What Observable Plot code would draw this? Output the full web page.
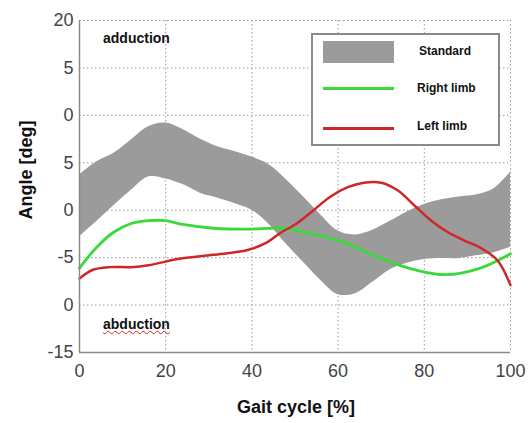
<!DOCTYPE html>
<html><head><meta charset="utf-8">
<script src="https://cdn.jsdelivr.net/npm/d3@7"></script>
<script src="https://cdn.jsdelivr.net/npm/@observablehq/plot@0.6"></script>
<style>
body{margin:0;background:#fff;font-family:"Liberation Sans",Arial,sans-serif;}
#wrap{position:relative;width:529px;height:423px;overflow:hidden;}
.ann{position:absolute;font-weight:bold;color:#111;white-space:nowrap;}
#legend{position:absolute;left:311px;top:33px;width:189px;height:113px;border:2px solid #8a8a8a;background:#fff;box-sizing:border-box;}
.lg{position:absolute;left:104px;font-size:12px;font-weight:bold;color:#111;}
.sw{position:absolute;left:10px;width:71px;}
svg text{font-family:"Liberation Sans",Arial,sans-serif;}
</style></head><body>
<div id="wrap"></div>
<script>
// Data
const bandX     = [0, 4, 8, 12, 16, 20, 24, 28, 32, 36, 40, 44, 48, 52, 56, 60, 64, 68, 72, 76, 80, 84, 88, 92, 96, 100];
const bandUpper = [3.7, 5.1, 6.0, 7.4, 8.8, 9.2, 8.5, 7.5, 6.7, 6.2, 5.6, 4.8, 3.2, 1.4, -0.5, -2.2, -2.6, -2.1, -1.2, -0.2, 0.6, 1.1, 1.4, 1.6, 2.2, 4.0];
const bandLower = [-2.8, -1.2, 0.5, 2.1, 3.5, 3.3, 2.7, 1.8, 1.3, 0.7, 0.0, -1.5, -3.6, -5.5, -7.4, -8.9, -8.8, -7.6, -6.3, -5.6, -5.2, -5.1, -5.1, -4.8, -4.5, -3.9];
const lineX     = [0, 4, 8, 12, 16, 20, 24, 31, 39, 47, 54, 62, 70, 78, 85, 93, 100];
const rightLimb = [-6.1, -3.9, -2.3, -1.4, -1.1, -1.1, -1.5, -1.9, -2.0, -1.9, -2.5, -3.5, -5.1, -6.3, -6.8, -6.1, -4.6];
const leftX     = [0, 3, 7, 12, 16, 23.5, 31, 39, 43.5, 46.6, 50.4, 54.3, 58.1, 62.1, 66, 70, 73.8, 77.7, 81.6, 85.4, 89.3, 93.2, 97, 100];
const leftLimb  = [-7.2, -6.3, -6.0, -6.0, -5.8, -5.1, -4.7, -4.2, -3.4, -2.4, -1.4, 0.0, 1.4, 2.4, 2.9, 2.9, 2.1, 0.5, -1.1, -2.3, -3.2, -4.0, -5.3, -7.9];
const yTicks      = [20, 15, 10, 5, 0, -5, -10, -15];
const yTickLabels = ["20", "5", "0", "5", "0", "-5", "0", "-15"];
const xTicks      = [0, 20, 40, 60, 80, 100];
const legendLabels = ["Standard", "Right limb", "Left limb"];
const colors = {band: "#9b9b9b", right: "#3ad83a", left: "#cf2727"};

const band = bandX.map((x, i) => ({x, lo: bandLower[i], hi: bandUpper[i]}));
const right = lineX.map((x, i) => ({x, y: rightLimb[i]}));
const left = leftX.map((x, i) => ({x, y: leftLimb[i]}));

const plot = Plot.plot({
  width: 529, height: 423,
  marginLeft: 79, marginRight: 19, marginTop: 20, marginBottom: 71,
  x: {domain: [0, 100]},
  y: {domain: [-15, 20]},
  style: {fontSize: "18px", color: "#444", background: "transparent"},
  marks: [
    Plot.gridX([20, 40, 60, 80, 100], {stroke: "#9a9a9a", strokeOpacity: 1, strokeDasharray: "1.5,2.5"}),
    Plot.gridY([20, 15, 10, 5, 0, -5, -10], {stroke: "#9a9a9a", strokeOpacity: 1, strokeDasharray: "1.5,2.5"}),
    Plot.areaY(band, {x: "x", y1: "lo", y2: "hi", fill: colors.band, curve: "catmull-rom"}),
    Plot.line(right, {x: "x", y: "y", stroke: colors.right, strokeWidth: 2.8, curve: "catmull-rom"}),
    Plot.line(left, {x: "x", y: "y", stroke: colors.left, strokeWidth: 2.5, curve: "catmull-rom"}),
    Plot.ruleX([0], {stroke: "#8a8a8a", strokeWidth: 1.5}),
    Plot.ruleY([-15], {stroke: "#8a8a8a", strokeWidth: 1.5}),
    Plot.axisY(yTicks, {tickSize: 0, tickPadding: 6, tickFormat: (d) => yTickLabels[yTicks.indexOf(d)], label: null, fontSize: 18}),
    Plot.axisX(xTicks, {tickSize: 0, tickPadding: 12, label: null, fontSize: 18})
  ]
});
const wrap = document.getElementById("wrap");
wrap.appendChild(plot);

function ann(text, css, style) {
  const d = document.createElement("div");
  d.className = "ann";
  d.textContent = text;
  Object.assign(d.style, style);
  wrap.appendChild(d);
  return d;
}
ann("adduction", "", {left: "103px", top: "30px", fontSize: "14px"});
ann("abduction", "", {left: "103px", top: "316px", fontSize: "14px", textDecoration: "underline wavy #e02020", textDecorationThickness: "1px"});
ann("Gait cycle [%]", "", {left: "237px", top: "397px", fontSize: "18px"});
ann("Angle [deg]", "", {left: "26px", top: "170px", fontSize: "18px", transform: "translate(-50%,-50%) rotate(-90deg)"});

const lg = document.createElement("div");
lg.id = "legend";
wrap.appendChild(lg);
const swatches = [
  {top: 6, height: 22, background: colors.band},
  {top: 52, height: 3, background: colors.right},
  {top: 92, height: 3, background: colors.left}
];
legendLabels.forEach((t, i) => {
  const s = document.createElement("div");
  s.className = "sw";
  s.style.top = swatches[i].top + "px";
  s.style.height = swatches[i].height + "px";
  s.style.background = swatches[i].background;
  lg.appendChild(s);
  const l = document.createElement("div");
  l.className = "lg";
  l.textContent = t;
  l.style.top = [9, 46, 84][i] + "px";
  if (i === 0) l.style.left = "106px";
  lg.appendChild(l);
});
</script>
</body></html>
